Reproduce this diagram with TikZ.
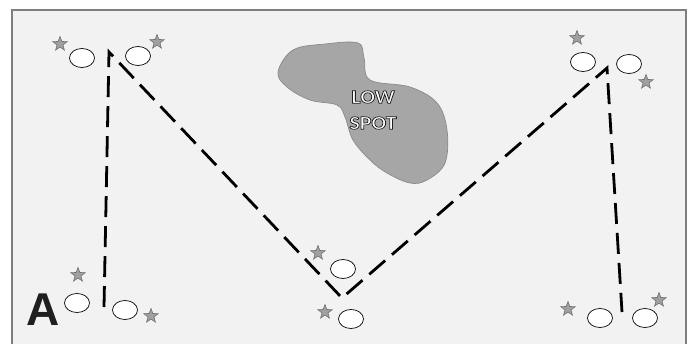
\documentclass[tikz,border=0pt]{standalone}
\usepackage{fontspec}
\newfontfamily\lowfont{Carlito}
\newfontfamily\afont{Liberation Sans}
\usetikzlibrary{shapes.geometric}
\definecolor{bgc}{HTML}{F2F2F2}
\definecolor{framec}{HTML}{7F7F7F}
\definecolor{starfill}{HTML}{A0A0A0}
\definecolor{starline}{HTML}{6E6E6E}
\definecolor{blobfill}{HTML}{A6A6A6}
\definecolor{blobline}{HTML}{8A8A8A}
\newcommand{\outlinedtext}[1]{\special{pdf:literal direct q 2 Tr 0.7 w 0.12 G 1 g}#1\special{pdf:literal direct Q}}
\tikzset{
  disc/.style={ellipse, draw=black, fill=white, line width=0.7pt, minimum width=25pt, minimum height=19pt, inner sep=0pt},
  gstar/.style={star, star points=5, star point ratio=2.4, draw=starline, fill=starfill, line width=0.6pt, minimum size=15pt, inner sep=0pt},
  route/.style={line width=2.8pt, dash pattern=on 21pt off 9pt, line cap=butt, line join=miter},
  spotlabel/.style={text=white, font=\lowfont\bfseries\fontsize{19}{26}\selectfont, align=center, xscale=1.15, transform shape, inner sep=0pt}
}
\begin{document}
\begin{tikzpicture}[x=1pt, y=-1pt]
\useasboundingbox (0,0) rectangle (691,343);
\fill[white] (0,0) rectangle (691,343);
\draw[framec, fill=bgc, line width=1.6pt] (12,10) rectangle (686,352);
% low spot
\fill[blobfill, draw=blobline, line width=0.7pt] plot[smooth cycle, tension=0.6] coordinates {
 (278,72) (293,50) (325,44) (358,43) (364,58) (370,80) (410,87) (437,103) (447,130) (445,163) (427,180) (410,183) (387,173) (370,160) (353,140) (345,117) (337,105) (310,100) (287,87)};
\node[spotlabel] (low) at (373,110) {\outlinedtext{LOW}\\\outlinedtext{SPOT}};
% route
\coordinate (p1) at (104,307);
\coordinate (p2) at (109,52);
\coordinate (p3) at (342,298);
\coordinate (p4) at (607,68);
\coordinate (p5) at (622,312);
\draw[route] (p1) -- (p2) -- (p3) -- (p4) -- (p5);
% top left
\node[gstar] (s1) at (60,44) {};
\node[disc] (e1) at (82,58) {};
\node[disc] (e2) at (138,56) {};
\node[gstar] (s2) at (157,42) {};
% bottom left
\node[gstar] (s3) at (78,275) {};
\node[disc] (e3) at (77,303) {};
\node[disc] (e4) at (125,310) {};
\node[gstar] (s4) at (151,316) {};
% centre
\node[gstar] (s5) at (318,253) {};
\node[disc] (e5) at (343,269) {};
\node[gstar] (s6) at (325,312) {};
\node[disc] (e6) at (351,319) {};
% top right
\node[gstar] (s7) at (577,38) {};
\node[disc] (e7) at (583,62) {};
\node[disc] (e8) at (629,64) {};
\node[gstar] (s8) at (646,82) {};
% bottom right
\node[gstar] (s9) at (568,309) {};
\node[disc] (e9) at (600,318) {};
\node[disc] (e10) at (645,318) {};
\node[gstar] (s10) at (659,300) {};
% label A
\node[font=\afont\bfseries\fontsize{46}{46}\selectfont, text=black!88, inner sep=0pt] (A) at (43,310) {A};
\end{tikzpicture}
\end{document}
